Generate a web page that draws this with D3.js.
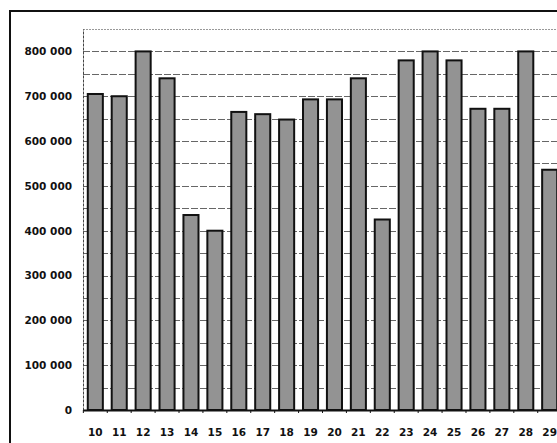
<!DOCTYPE html>
<html>
<head>
<meta charset="utf-8">
<script src="https://cdn.jsdelivr.net/npm/d3@7"></script>
<style>
html,body{margin:0;padding:0;background:#fff;}
svg{display:block;}
</style>
</head>
<body>
<svg id="chart" width="557" height="443"></svg>
<script>
const categories = ["10","11","12","13","14","15","16","17","18","19","20","21","22","23","24","25","26","27","28","29"];
const values = [705000,700000,800000,740000,435000,400000,665000,660000,648000,693000,693000,740000,425000,780000,800000,780000,672000,672000,800000,536000];
const yTicks = [0,100000,200000,300000,400000,500000,600000,700000,800000];
const gridValues = [50000,100000,150000,200000,250000,300000,350000,400000,450000,500000,550000,600000,650000,700000,750000,800000,850000];

const svg = d3.select("#chart");
const W = 557, H = 443;
const plot = {left:83, top:29, bottom:410, right:562};

const x = d3.scaleBand().domain(categories).range([plot.left, plot.right]).paddingInner(0.37).paddingOuter(0.2);
const y = d3.scaleLinear().domain([0, 850000]).range([plot.bottom, plot.top]);

// outer frame
svg.append("line").attr("x1",10).attr("x2",W).attr("y1",11).attr("y2",11).attr("stroke","#111").attr("stroke-width",2);
svg.append("line").attr("x1",10).attr("x2",10).attr("y1",10).attr("y2",H).attr("stroke","#111").attr("stroke-width",2);

// gridlines
svg.append("g").selectAll("line").data(gridValues).join("line")
  .attr("x1",plot.left).attr("x2",W)
  .attr("y1",d=>Math.round(y(d))+0.5).attr("y2",d=>Math.round(y(d))+0.5)
  .attr("stroke",d=>d===850000?"#999":"#666")
  .attr("stroke-width",1)
  .attr("stroke-dasharray",d=>d===850000?"2,1":"7,2");

// y axis (left)
const yAxis = d3.axisLeft(y).tickValues(yTicks).tickSize(0).tickPadding(11)
  .tickFormat(d=>d3.format(",")(d).replace(/,/g," "));
const gy = svg.append("g").attr("transform",`translate(${plot.left},0)`).call(yAxis);
gy.select(".domain").attr("stroke","#444").attr("stroke-dasharray","3,1");
gy.selectAll("text").attr("font-family","DejaVu Sans, Verdana, sans-serif").attr("font-size",10.5).attr("font-weight","bold").attr("fill","#111");

// bars
svg.append("g").selectAll("rect").data(values).join("rect")
  .attr("x",(d,i)=>x(categories[i]))
  .attr("width",x.bandwidth())
  .attr("y",d=>y(d))
  .attr("height",d=>plot.bottom-y(d))
  .attr("fill","#939393")
  .attr("stroke","#111")
  .attr("stroke-width",2);

// x axis
const xAxis = d3.axisBottom(x).tickSize(0).tickPadding(19);
const gx = svg.append("g").attr("transform",`translate(0,${plot.bottom})`).call(xAxis);
gx.select(".domain").attr("stroke","#111").attr("stroke-width",2);
gx.selectAll("text").attr("font-family","DejaVu Sans, Verdana, sans-serif").attr("font-size",10.5).attr("font-weight","bold").attr("fill","#111");
// small boundary ticks
const bounds = categories.map(c=>x(c)-x.step()*x.paddingInner()/2);
svg.append("g").selectAll("line").data(bounds).join("line")
  .attr("x1",d=>d).attr("x2",d=>d).attr("y1",plot.bottom).attr("y2",plot.bottom+3)
  .attr("stroke","#111").attr("stroke-width",1);
</script>
</body>
</html>
